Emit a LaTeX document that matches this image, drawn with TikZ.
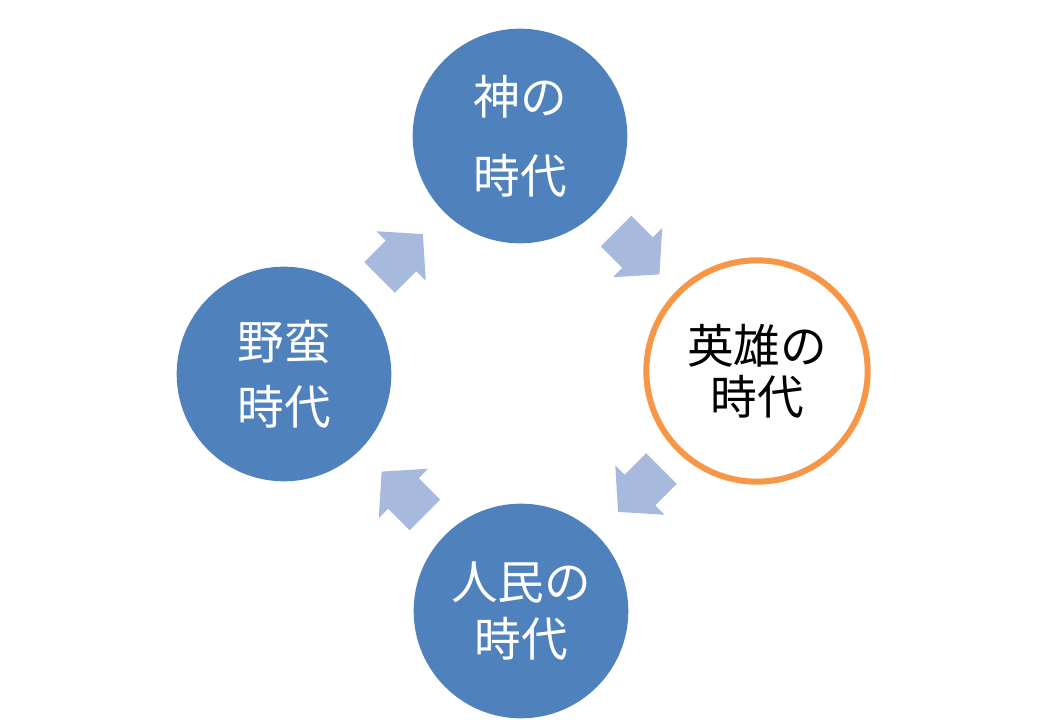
\documentclass[tikz,border=0pt]{standalone}
\usepackage{fontspec}
\usepackage{tikz}
\usetikzlibrary{shapes.arrows}
\usetikzlibrary{calc}
\newfontfamily\cjk{Noto Sans CJK JP}

\definecolor{eraBlue}{RGB}{79,129,189}
\definecolor{eraOrange}{RGB}{247,150,70}
\definecolor{flowBlue}{RGB}{167,185,221}

\begin{document}
\begin{tikzpicture}[x=0.75pt,y=0.75pt,yscale=-1,
    era/.style={circle,inner sep=0pt,minimum size=161pt,align=center,
        font=\cjk\fontsize{35}{38}\selectfont},
    eraFilled/.style={era,fill=eraBlue,text=white},
    eraRing/.style={era,minimum size=166pt,fill=white,draw=eraOrange,line width=4.5pt,text=black},
    cycleArrow/.style={single arrow,draw=none,fill=flowBlue,inner xsep=0pt,inner ysep=16pt,
        minimum height=46pt,
        single arrow head extend=10pt,single arrow tip angle=97}]
        \useasboundingbox (0,0) rectangle (1040,720);

        %Shape: Circle [id:gods]
        \node[eraFilled] (gods) at (520,136) {神の\\[21pt]時代};
        %Shape: Circle [id:heroes]
        \node[eraRing] (heroes) at (757,371) {英雄の\\時代};
        %Shape: Circle [id:people]
        \node[eraFilled] (people) at (521,611) {人民の\\[5pt]時代};
        %Shape: Circle [id:barbarism]
        \node[eraFilled] (barbarism) at (284,374) {野蛮\\[11pt]時代};

        %Shape: Right Arrow [id:gods-heroes]
        \node[cycleArrow,rotate=-45,xshift=-8pt] (arrowA) at ($(gods)!0.5!(heroes)$) {};
        %Shape: Right Arrow [id:heroes-people]
        \node[cycleArrow,rotate=-135,xshift=-8pt] (arrowB) at ($(heroes)!0.5!(people)$) {};
        %Shape: Right Arrow [id:people-barbarism]
        \node[cycleArrow,rotate=135,xshift=-8pt] (arrowC) at ($(people)!0.5!(barbarism)$) {};
        %Shape: Right Arrow [id:barbarism-gods]
        \node[cycleArrow,rotate=45,xshift=-8pt] (arrowD) at ($(barbarism)!0.5!(gods)$) {};
\end{tikzpicture}
\end{document}
